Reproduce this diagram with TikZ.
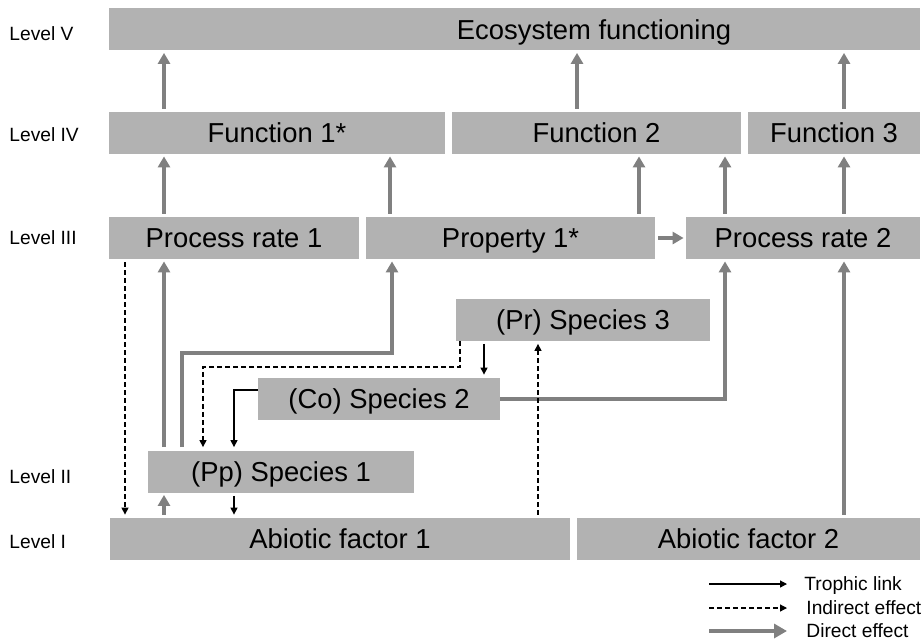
\documentclass[tikz,border=0pt]{standalone}
\usepackage{fontspec}
\setmainfont{Liberation Sans}
\usetikzlibrary{arrows.meta}
\definecolor{boxgray}{RGB}{178,178,178}
\definecolor{arrowgray}{RGB}{128,128,128}

\begin{document}
\begin{tikzpicture}[
		x=0.5pt,y=-0.5pt,
		boxtext/.style={font=\fontsize{13.7}{16}\selectfont, text height=9.8pt, text depth=-1.2pt},
		box/.style={boxtext, fill=boxgray, inner sep=0pt, minimum height=21pt},
		lvl/.style={anchor=west, inner sep=0pt, font=\fontsize{9.6}{11}\selectfont, text height=6.9pt, text depth=0pt},
		direct/.style={draw=arrowgray, line width=2pt, -{Triangle[width=6pt,length=5.5pt]}, shorten <=1.5pt, shorten >=1pt},
		trophic/.style={draw=black, line width=0.6pt, -{Triangle[width=3.5pt,length=3.5pt]}, shorten <=1.5pt, shorten >=1.5pt},
		indirect/.style={trophic, dash pattern=on 2.4pt off 1.6pt}
		]
		\useasboundingbox (0,0) rectangle (924,642);
		
		% ====== LEVELS ======
		\node[lvl] (lv5) at (9,33.5) {Level V};
		\node[lvl] (lv4) at (9,135) {Level IV};
		\node[lvl] (lv3) at (9,238) {Level III};
		\node[lvl] (lv2) at (9,477) {Level II};
		\node[lvl] (lv1) at (9,542) {Level I};
		
		% ====== BOXES ======
		\node[box, minimum width=405.5pt,
		label={[boxtext, inner sep=0pt, xshift=39.75pt]center:Ecosystem functioning}]
		(eco) at (514.5,29.5) {};
		
		\node[box, minimum width=168pt] (f1) at (277,133) {Function 1*};
		\node[box, minimum width=144.5pt] (f2) at (596.5,133) {Function 2};
		\node[box, minimum width=86pt] (f3) at (834,133) {Function 3};
		
		\node[box, minimum width=125pt] (pr1) at (234,238) {Process rate 1};
		\node[box, minimum width=144.5pt] (prop) at (510.5,238) {Property 1*};
		\node[box, minimum width=117pt] (pr2) at (803,238) {Process rate 2};
		
		\node[box, minimum width=127pt] (sp3) at (583,319.5) {(Pr) Species 3};
		\node[box, minimum width=121pt] (sp2) at (379,399) {(Co) Species 2};
		\node[box, minimum width=133pt] (sp1) at (281,471.5) {(Pp) Species 1};
		
		\node[box, minimum width=230pt] (ab1) at (340,539) {Abiotic factor 1};
		\node[box, minimum width=171.5pt] (ab2) at (748.5,539) {Abiotic factor 2};
		
		% columns and bends of the links
		\foreach \x in {125,164,182,390,460,484,538,577,639,725,844}
		\coordinate (x\x) at (\x,0);
		\coordinate (kneeA) at (392,353);
		\coordinate (kneeB) at (203,367);
		\coordinate (kneeC) at (234,390);
		
		% ====== DIRECT EFFECTS ======
		\draw[direct] (f1.north -| x164) -- (eco.south -| x164);
		\draw[direct] (f2.north -| x577) -- (eco.south -| x577);
		\draw[direct] (f3.north -| x844) -- (eco.south -| x844);
		
		\draw[direct] (pr1.north -| x164) -- (f1.south -| x164);
		\draw[direct] (prop.north -| x390) -- (f1.south -| x390);
		\draw[direct] (prop.north -| x639) -- (f2.south -| x639);
		\draw[direct] (pr2.north -| x725) -- (f2.south -| x725);
		\draw[direct] (pr2.north -| x844) -- (f3.south -| x844);
		\draw[direct] (prop) -- (pr2);
		
		\draw[direct] (sp1.north -| x164) -- (pr1.south -| x164);
		\draw[direct] (ab1.north -| x164) -- (sp1.south -| x164);
		\draw[direct] (sp1.north -| x182) |- (kneeA) -- (prop.south -| kneeA);
		\draw[direct, shorten <=0pt] (sp2.east) -| (pr2.south -| x725);
		\draw[direct] (ab2.north -| x844) -- (pr2.south -| x844);
		
		% ====== INDIRECT EFFECTS ======
		\draw[indirect] (pr1.south -| x125) -- (ab1.north -| x125);
		\draw[indirect, shorten <=0pt] (sp3.south -| x460) |- (kneeB) -- (sp1.north -| kneeB);
		\draw[indirect] (ab1.north -| x538) -- (sp3.south -| x538);
		
		% ====== TROPHIC LINKS ======
		\draw[trophic] (sp3.south -| x484) -- (sp2.north -| x484);
		\draw[trophic, shorten <=0pt] (sp2.west |- kneeC) -- (kneeC) -- (sp1.north -| kneeC);
		\draw[trophic] (sp1.south -| kneeC) -- (ab1.north -| kneeC);
		
		% ====== LEGEND ======
		\node[lvl] (lt1) at (804,584) {Trophic link};
		\node[lvl] (lt2) at (806,608) {Indirect effect};
		\node[lvl] (lt3) at (806,631) {Direct effect};
		\coordinate (lg1) at (709,584);
		\coordinate (lg2) at (709,608);
		\coordinate (lg3) at (709,631);
		\draw[trophic, shorten <=0pt, shorten >=0pt] (lg1) -- ([xshift=-8.5pt]lt1.west);
		\draw[indirect, shorten <=0pt, shorten >=0pt] (lg2) -- ([xshift=-9.5pt]lt2.west);
		\draw[direct, shorten <=0pt, shorten >=0pt, -{Triangle[width=7pt,length=6.5pt]}] (lg3) -- ([xshift=-9.5pt]lt3.west);
		
\end{tikzpicture}
\end{document}
